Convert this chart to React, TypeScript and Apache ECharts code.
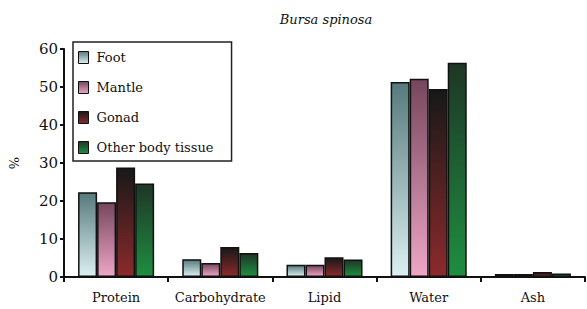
import React, { useEffect, useRef } from "react";
import * as echarts from "echarts";

const categories = ["Protein", "Carbohydrate", "Lipid", "Water", "Ash"];
const seriesNames = ["Foot", "Mantle", "Gonad", "Other body tissue"];
const foot = [22.3, 4.7, 3.2, 51.3, 0.8];
const mantle = [19.7, 3.7, 3.2, 52.2, 0.8];
const gonad = [28.8, 7.9, 5.2, 49.5, 1.3];
const other = [24.6, 6.3, 4.6, 56.4, 0.9];
const yTicks = [0, 10, 20, 30, 40, 50, 60];

const gradients: [string, string][] = [
  ["#567a7c", "#dcf0f2"],
  ["#76465c", "#eea6c6"],
  ["#181818", "#8c2a2c"],
  ["#1e3626", "#1f8e40"],
];

const grad = (i: number) =>
  new echarts.graphic.LinearGradient(0, 0, 0, 1, [
    { offset: 0, color: gradients[i][0] },
    { offset: 1, color: gradients[i][1] },
  ]);

export default function App() {
  const ref = useRef<HTMLDivElement>(null);
  useEffect(() => {
    if (!ref.current) return;
    const chart = echarts.init(ref.current, null, { renderer: "svg" });
    const font = "DejaVu Serif";
    const data = [foot, mantle, gonad, other];
    chart.setOption({
      animation: false,
      backgroundColor: "#ffffff",
      textStyle: { fontFamily: font },
      title: {
        text: "Bursa spinosa",
        left: 321,
        textAlign: "center",
        top: 8,
        textStyle: {
          fontFamily: font,
          fontStyle: "italic",
          fontWeight: "normal",
          fontSize: 13,
          color: "#111",
        },
      },
      legend: {
        orient: "vertical",
        left: 73,
        top: 42,
        padding: [9, 18, 7, 5],
        borderColor: "#222",
        borderWidth: 1.5,
        itemWidth: 10,
        itemHeight: 12,
        itemGap: 17,
        icon: "rect",
        itemStyle: { borderColor: "#111", borderWidth: 1 },
        textStyle: { fontFamily: font, fontSize: 13, color: "#111", padding: [0, 0, 0, 3] },
        data: seriesNames,
      },
      grid: { left: 63, right: 2, top: 49, bottom: 32 },
      xAxis: {
        type: "category",
        data: categories,
        axisLine: { lineStyle: { color: "#111", width: 2 } },
        axisTick: { show: true, length: 5, lineStyle: { color: "#111", width: 2 } },
        axisLabel: { interval: 0, fontFamily: font, fontSize: 13, color: "#111", margin: 14 },
      },
      yAxis: {
        type: "value",
        min: 0,
        max: 60,
        interval: 10,
        name: "%",
        nameLocation: "middle",
        nameGap: 43,
        nameRotate: 90,
        nameTextStyle: { fontFamily: font, fontSize: 13, color: "#111" },
        splitLine: { show: false },
        axisLine: { show: true, lineStyle: { color: "#111", width: 2 } },
        axisTick: { show: true, length: 4, lineStyle: { color: "#111", width: 2 } },
        axisLabel: { fontFamily: font, fontSize: 15, color: "#111", margin: 6 },
      },
      series: seriesNames.map((name, i) => ({
        name,
        type: "bar",
        data: data[i],
        barGap: "0%",
        barCategoryGap: "27%",
        itemStyle: { color: grad(i), borderColor: "#111", borderWidth: 1.5 },
      })),
    });
    return () => chart.dispose();
  }, []);
  return <div ref={ref} style={{ width: 587, height: 309, position: "absolute", left: 0, top: 0 }} />;
}
